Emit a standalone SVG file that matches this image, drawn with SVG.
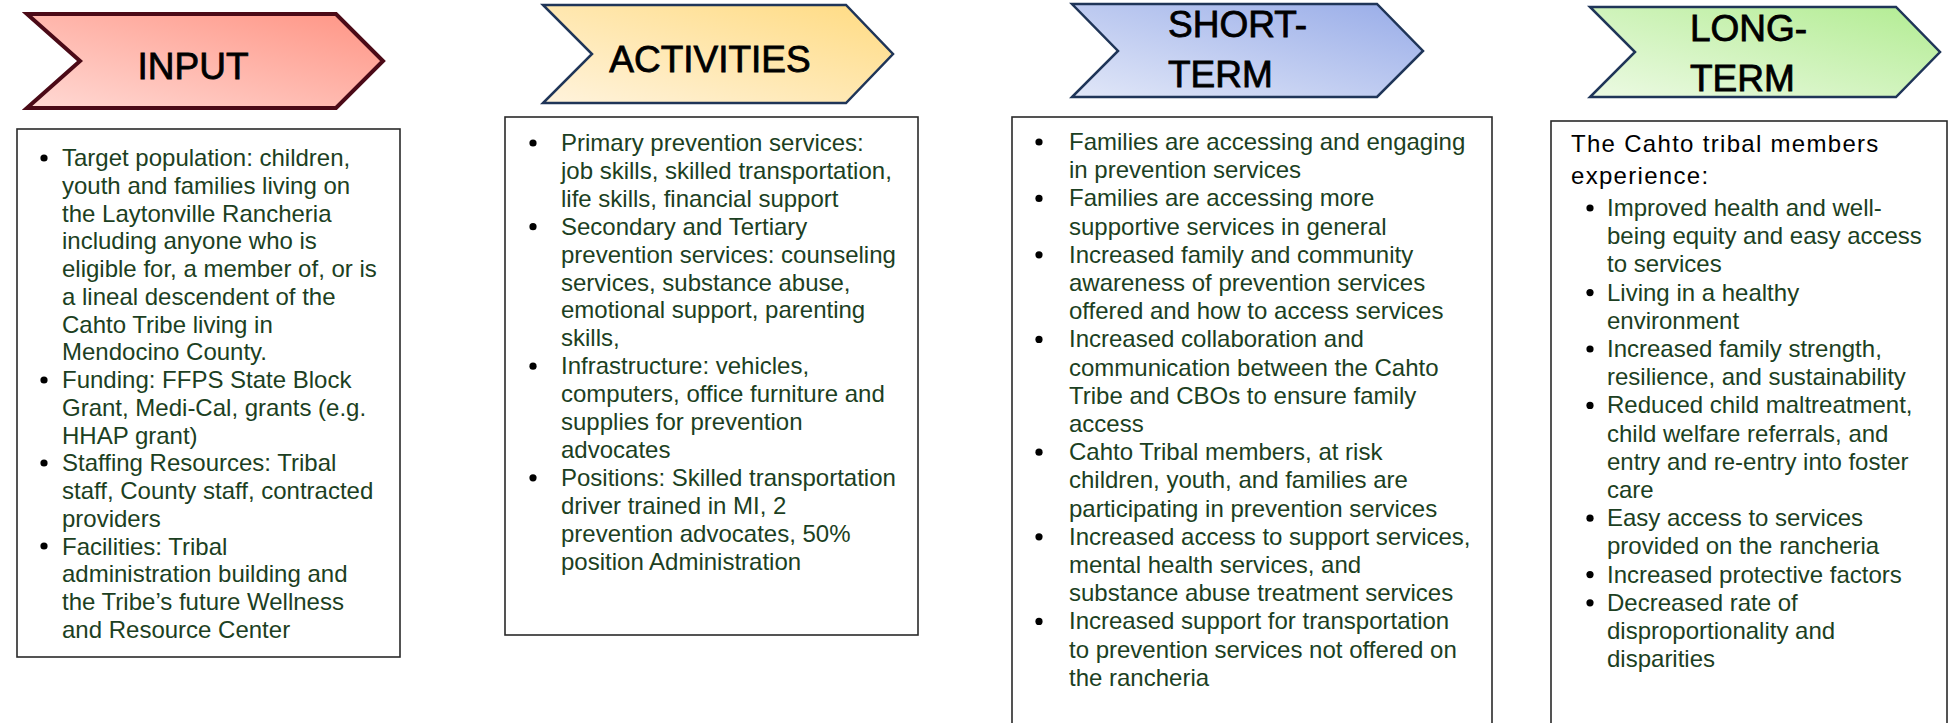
<svg xmlns="http://www.w3.org/2000/svg" width="1958" height="723" viewBox="0 0 1958 723">
<style>
.box{fill:#fff;stroke:#2a2a2a;stroke-width:1.6}
.hd{font-family:"Liberation Sans",Arial,sans-serif;font-size:37px;fill:#000;stroke:#000;stroke-width:0.8}
.tx{font-family:"Liberation Sans",Arial,sans-serif;font-size:24px;fill:#1c3f22}
.bk{font-family:"Liberation Sans",Arial,sans-serif;font-size:24px;fill:#000;letter-spacing:1.3px}
.bul{fill:#000}
.chev2{stroke:#1f3558;stroke-width:2.5;stroke-linejoin:miter}
</style>
<defs>
<linearGradient id="gIn" x1="0" y1="1" x2="1" y2="0"><stop offset="0" stop-color="#ffd9d4"/><stop offset="1" stop-color="#ff9484"/></linearGradient>
<linearGradient id="gAc" x1="0" y1="1" x2="1" y2="0"><stop offset="0" stop-color="#fff3dc"/><stop offset="1" stop-color="#ffdb82"/></linearGradient>
<linearGradient id="gSh" x1="0" y1="1" x2="1" y2="0"><stop offset="0" stop-color="#e1e7f8"/><stop offset="1" stop-color="#98ace8"/></linearGradient>
<linearGradient id="gLo" x1="0" y1="1" x2="1" y2="0"><stop offset="0" stop-color="#ecfae3"/><stop offset="1" stop-color="#b2ec92"/></linearGradient>
</defs>
<rect width="1958" height="723" fill="#fff"/>

<g id="connectors"/>

<g id="input-header">
<polygon points="27,14 336,14 383,61 336,108 27,108 80,61" fill="url(#gIn)" stroke="#4b0a17" stroke-width="4"/>
<text class="hd" x="193" y="79" text-anchor="middle">INPUT</text>
</g>
<g id="activities-header">
<polygon points="543,5 846,5 893,54 846,103 543,103 592,54" fill="url(#gAc)" class="chev2"/>
<text class="hd" x="710" y="72" text-anchor="middle">ACTIVITIES</text>
</g>
<g id="short-term-header">
<polygon points="1072,4 1377,4 1423,51 1377,97 1072,97 1118,51" fill="url(#gSh)" class="chev2"/>
<text class="hd" x="1168" y="37">SHORT-</text>
<text class="hd" x="1168" y="87">TERM</text>
</g>
<g id="long-term-header">
<polygon points="1590,7 1896,7 1940,52 1896,97 1590,97 1635,52" fill="url(#gLo)" class="chev2"/>
<text class="hd" x="1690" y="41">LONG-</text>
<text class="hd" x="1690" y="91">TERM</text>
</g>

<g id="input-box">
<rect class="box" x="17" y="129" width="383" height="528"/>
<g class="bul"><circle cx="44" cy="158" r="3.6"/><circle cx="44" cy="380" r="3.6"/><circle cx="44" cy="463" r="3.6"/><circle cx="44" cy="546" r="3.6"/></g>
<text class="tx">
<tspan x="62" y="166">Target population: children,</tspan>
<tspan x="62" y="193.75">youth and families living on</tspan>
<tspan x="62" y="221.5">the Laytonville Rancheria</tspan>
<tspan x="62" y="249.25">including anyone who is</tspan>
<tspan x="62" y="277">eligible for, a member of, or is</tspan>
<tspan x="62" y="304.75">a lineal descendent of the</tspan>
<tspan x="62" y="332.5">Cahto Tribe living in</tspan>
<tspan x="62" y="360.25">Mendocino County.</tspan>
<tspan x="62" y="388">Funding: FFPS State Block</tspan>
<tspan x="62" y="415.75">Grant, Medi-Cal, grants (e.g.</tspan>
<tspan x="62" y="443.5">HHAP grant)</tspan>
<tspan x="62" y="471.25">Staffing Resources: Tribal</tspan>
<tspan x="62" y="499">staff, County staff, contracted</tspan>
<tspan x="62" y="526.75">providers</tspan>
<tspan x="62" y="554.5">Facilities: Tribal</tspan>
<tspan x="62" y="582.25">administration building and</tspan>
<tspan x="62" y="610">the Tribe’s future Wellness</tspan>
<tspan x="62" y="637.75">and Resource Center</tspan>
</text>
</g>

<g id="activities-box">
<rect class="box" x="505" y="117" width="413" height="518"/>
<g class="bul"><circle cx="533" cy="143" r="3.6"/><circle cx="533" cy="226.7" r="3.6"/><circle cx="533" cy="366.2" r="3.6"/><circle cx="533" cy="477.8" r="3.6"/></g>
<text class="tx">
<tspan x="561" y="151">Primary prevention services:</tspan>
<tspan x="561" y="178.9">job skills, skilled transportation,</tspan>
<tspan x="561" y="206.8">life skills, financial support</tspan>
<tspan x="561" y="234.7">Secondary and Tertiary</tspan>
<tspan x="561" y="262.6">prevention services: counseling</tspan>
<tspan x="561" y="290.5">services, substance abuse,</tspan>
<tspan x="561" y="318.4">emotional support, parenting</tspan>
<tspan x="561" y="346.3">skills,</tspan>
<tspan x="561" y="374.2">Infrastructure: vehicles,</tspan>
<tspan x="561" y="402.1">computers, office furniture and</tspan>
<tspan x="561" y="430">supplies for prevention</tspan>
<tspan x="561" y="457.9">advocates</tspan>
<tspan x="561" y="485.8">Positions: Skilled transportation</tspan>
<tspan x="561" y="513.7">driver trained in MI, 2</tspan>
<tspan x="561" y="541.6">prevention advocates, 50%</tspan>
<tspan x="561" y="569.5">position Administration</tspan>
</text>
</g>

<g id="short-term-box">
<rect class="box" x="1012" y="117" width="480" height="640"/>
<g class="bul"><circle cx="1039" cy="142" r="3.6"/><circle cx="1039" cy="198.4" r="3.6"/><circle cx="1039" cy="254.8" r="3.6"/><circle cx="1039" cy="339.4" r="3.6"/><circle cx="1039" cy="452.2" r="3.6"/><circle cx="1039" cy="536.8" r="3.6"/><circle cx="1039" cy="621.4" r="3.6"/></g>
<text class="tx">
<tspan x="1069" y="150">Families are accessing and engaging</tspan>
<tspan x="1069" y="178.2">in prevention services</tspan>
<tspan x="1069" y="206.4">Families are accessing more</tspan>
<tspan x="1069" y="234.6">supportive services in general</tspan>
<tspan x="1069" y="262.8">Increased family and community</tspan>
<tspan x="1069" y="291">awareness of prevention services</tspan>
<tspan x="1069" y="319.2">offered and how to access services</tspan>
<tspan x="1069" y="347.4">Increased collaboration and</tspan>
<tspan x="1069" y="375.6">communication between the Cahto</tspan>
<tspan x="1069" y="403.8">Tribe and CBOs to ensure family</tspan>
<tspan x="1069" y="432">access</tspan>
<tspan x="1069" y="460.2">Cahto Tribal members, at risk</tspan>
<tspan x="1069" y="488.4">children, youth, and families are</tspan>
<tspan x="1069" y="516.6">participating in prevention services</tspan>
<tspan x="1069" y="544.8">Increased access to support services,</tspan>
<tspan x="1069" y="573">mental health services, and</tspan>
<tspan x="1069" y="601.2">substance abuse treatment services</tspan>
<tspan x="1069" y="629.4">Increased support for transportation</tspan>
<tspan x="1069" y="657.6">to prevention services not offered on</tspan>
<tspan x="1069" y="685.8">the rancheria</tspan>
</text>
</g>

<g id="long-term-box">
<rect class="box" x="1551" y="121" width="396" height="640"/>
<text class="bk"><tspan x="1571" y="152">The Cahto tribal members</tspan><tspan x="1571" y="184">experience:</tspan></text>
<g class="bul"><circle cx="1590" cy="208" r="3.6"/><circle cx="1590" cy="292.6" r="3.6"/><circle cx="1590" cy="349" r="3.6"/><circle cx="1590" cy="405.4" r="3.6"/><circle cx="1590" cy="518.2" r="3.6"/><circle cx="1590" cy="574.6" r="3.6"/><circle cx="1590" cy="602.8" r="3.6"/></g>
<text class="tx">
<tspan x="1607" y="216">Improved health and well-</tspan>
<tspan x="1607" y="244.2">being equity and easy access</tspan>
<tspan x="1607" y="272.4">to services</tspan>
<tspan x="1607" y="300.6">Living in a healthy</tspan>
<tspan x="1607" y="328.8">environment</tspan>
<tspan x="1607" y="357">Increased family strength,</tspan>
<tspan x="1607" y="385.2">resilience, and sustainability</tspan>
<tspan x="1607" y="413.4">Reduced child maltreatment,</tspan>
<tspan x="1607" y="441.6">child welfare referrals, and</tspan>
<tspan x="1607" y="469.8">entry and re-entry into foster</tspan>
<tspan x="1607" y="498">care</tspan>
<tspan x="1607" y="526.2">Easy access to services</tspan>
<tspan x="1607" y="554.4">provided on the rancheria</tspan>
<tspan x="1607" y="582.6">Increased protective factors</tspan>
<tspan x="1607" y="610.8">Decreased rate of</tspan>
<tspan x="1607" y="639">disproportionality and</tspan>
<tspan x="1607" y="667.2">disparities</tspan>
</text>
</g>
</svg>
